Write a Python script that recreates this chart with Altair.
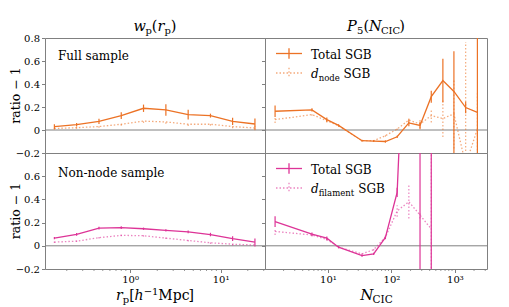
import altair as alt
import pandas as pd

# ---------------- data ----------------
rp = [0.146, 0.257, 0.454, 0.80, 1.41, 2.49, 4.39, 7.74, 13.6, 24.0]
wp_full_total = [0.029, 0.046, 0.075, 0.125, 0.189, 0.175, 0.134, 0.125, 0.075, 0.052]
wp_full_total_err = [0.02, 0.015, 0.022, 0.03, 0.032, 0.05, 0.043, 0.017, 0.032, 0.048]
wp_full_node = [0.013, 0.02, 0.03, 0.05, 0.077, 0.07, 0.05, 0.05, 0.03, 0.017]
wp_full_node_err = [0.01, 0.01, 0.01, 0.012, 0.015, 0.015, 0.015, 0.012, 0.015, 0.02]

wp_nn_total = [0.066, 0.098, 0.153, 0.156, 0.147, 0.133, 0.12, 0.097, 0.062, 0.032]
wp_nn_total_err = [0.01, 0.012, 0.012, 0.012, 0.01, 0.01, 0.012, 0.015, 0.02, 0.03]
wp_nn_fil = [0.032, 0.04, 0.07, 0.09, 0.087, 0.066, 0.046, 0.026, 0.014, 0.007]
wp_nn_fil_err = [0.008, 0.008, 0.008, 0.008, 0.008, 0.008, 0.01, 0.01, 0.012, 0.015]

ncic = [1.47, 5.6, 9.6, 14.7, 34.4, 52.5, 80.4, 123, 188, 282, 424, 646, 964, 1476, 2259]
p5_full_total = [0.163, 0.175, 0.09, 0.04, -0.093, -0.097, -0.10, -0.059, 0.062, 0.04, 0.29, 0.43, 0.335, 0.195, 0.154]
p5_full_total_lo = [0.113, 0.16, 0.072, 0.03, -0.101, -0.105, -0.11, -0.069, 0.032, 0.007, 0.238, 0.24, -0.3, 0.145, -2.0]
p5_full_total_hi = [0.213, 0.19, 0.108, 0.05, -0.085, -0.089, -0.09, -0.049, 0.092, 0.073, 0.342, 0.62, 0.685, 0.245, 2.3]
p5_full_node = [0.09, 0.134, 0.081, 0.038, -0.093, -0.093, -0.05, 0.008, 0.087, 0.052, 0.125, 0.10, 0.14, -0.30, 0.008]
p5_full_node_lo = [0.06, 0.124, 0.066, 0.03, -0.1, -0.1, -0.058, 0.0, 0.057, 0.017, 0.065, -0.06, -0.16, -1.4, -0.3]
p5_full_node_hi = [0.12, 0.144, 0.096, 0.046, -0.086, -0.086, -0.042, 0.016, 0.117, 0.087, 0.185, 0.26, 0.44, 0.765, 0.32]

ncic_nn = [1.47, 5.6, 9.6, 14.7, 34.4, 52.5, 80.4, 123, 188, 282, 424]
p5_nn_total = [0.208, 0.10, 0.066, -0.012, -0.084, -0.07, 0.072, 0.46, 2.8, 3.0, 3.0]
p5_nn_total_lo = [0.162, 0.085, 0.051, -0.022, -0.094, -0.08, 0.057, 0.42, 2.5, -5.0, -5.0]
p5_nn_total_hi = [0.254, 0.115, 0.081, -0.002, -0.074, -0.06, 0.087, 0.50, 3.1, 11.0, 11.0]
p5_nn_fil = [0.124, 0.093, 0.055, -0.012, -0.07, -0.033, 0.075, 0.30, 0.38, 0.265, 0.145]
p5_nn_fil_lo = [0.094, 0.081, 0.043, -0.02, -0.078, -0.041, 0.065, 0.25, 0.235, 0.235, -3.0]
p5_nn_fil_hi = [0.154, 0.105, 0.067, -0.004, -0.062, -0.025, 0.085, 0.35, 0.525, 0.295, 3.0]

minor_rp = [0.2, 0.3, 0.4, 0.5, 0.6, 0.7, 0.8, 0.9, 2, 3, 4, 5, 6, 7, 8, 9, 20, 30]
minor_n = [2, 3, 4, 5, 6, 7, 8, 9, 20, 30, 40, 50, 60, 70, 80, 90,
           200, 300, 400, 500, 600, 700, 800, 900, 2000, 3000]

# ---------------- style ----------------
FONT = "DejaVu Serif"
ORANGE = "#ec7225"
MAGENTA = "#dd3497"
GRAY = "#808080"
WL, WR = 220, 222
HT, HB = 115, 116
DOT = [1.5, 2]

CW = {' ': .318, '(': .39, ')': .39, '[': .39, ']': .39, '−': .838, '0': .636, '1': .636,
      '5': .636, 'B': .735, 'C': .733, 'G': .779, 'I': .369, 'M': .947, 'N': .818,
      'P': .692, 'S': .685, 'T': .672, 'a': .598, 'c': .563, 'd': .642, 'e': .594,
      'f': .373, 'h': .644, 'i': .32, 'l': .32, 'm': .953, 'n': .644, 'o': .602,
      'p': .642, 'r': .478, 't': .402, 'w': .82}


def rich(pieces, x0, y0, anchor="left"):
    widths = [sum(CW.get(c, 0.6) for c in t) * s for t, s, it, dy in pieces]
    x = x0 - sum(widths) / 2 if anchor == "center" else x0
    out = []
    for (t, s, it, dy), w in zip(pieces, widths):
        lead = (len(t) - len(t.lstrip(" "))) * CW[" "] * s
        out.append(
            alt.Chart(pd.DataFrame({"t": [t.strip(" ")]})).mark_text(
                align="left", baseline="alphabetic", font=FONT, fontSize=s,
                fontStyle="italic" if it else "normal", fontWeight="normal", color="black")
            .encode(text="t:N", x=alt.value(x + lead), y=alt.value(y0 + dy)))
        x += w
    return out


def legend(label_pieces2, color):
    one = pd.DataFrame({"a": [0]})
    out = []
    rows = [(15.5, "solid"), (35, "dot")]
    for yy, kind in rows:
        kw = dict(color=color, strokeWidth=1.3)
        if kind == "dot":
            kw = dict(color=color, strokeWidth=1.3, strokeDash=DOT, opacity=0.6)
        out.append(alt.Chart(one).mark_rule(**kw).encode(
            x=alt.value(11), x2=alt.value(37), y=alt.value(yy)))
        out.append(alt.Chart(one).mark_rule(**kw).encode(
            x=alt.value(24), y=alt.value(yy - 5.3), y2=alt.value(yy + 5.3)))
    out += rich([("Total SGB", 12, False, 0)], 46, 20.5)
    out += rich(label_pieces2, 46, 40)
    return out


def panel(xv, a, alo, ahi, b, blo, bhi, color, xdom, W, H, yaxis, xaxis, extra, minor=None):
    xs = alt.Scale(type="log", domain=xdom, nice=False)
    ys = alt.Scale(domain=[-0.2, 0.8], nice=False, zero=False)
    X = alt.X("x:Q", scale=xs, axis=xaxis, title=None)
    da = pd.DataFrame({"x": xv, "y": a, "lo": alo, "hi": ahi})
    db = pd.DataFrame({"x": xv, "y": b, "lo": blo, "hi": bhi})
    zero = alt.Chart(pd.DataFrame({"y": [0]})).mark_rule(color=GRAY, strokeWidth=1).encode(
        y=alt.Y("y:Q", scale=ys, axis=yaxis, title=None))
    layers = [zero]
    for d, dotted in [(db, True), (da, False)]:
        kw = dict(color=color, clip=True)
        if dotted:
            kw.update(strokeDash=DOT, opacity=0.6)
        layers.append(alt.Chart(d).mark_rule(strokeWidth=1.2, **kw).encode(
            x=X, y=alt.Y("lo:Q", scale=ys, axis=yaxis, title=None), y2="hi:Q"))
        layers.append(alt.Chart(d).mark_line(strokeWidth=1.3, **kw).encode(
            x=X, y=alt.Y("y:Q", scale=ys, axis=yaxis, title=None)))
    if minor is not None:
        layers.append(alt.Chart(pd.DataFrame({"x": minor})).mark_rule(color=GRAY, strokeWidth=0.8).encode(
            x=X, y=alt.value(H), y2=alt.value(H + 2)))
    layers += extra
    return alt.layer(*layers).properties(width=W, height=H)


AX = dict(labelFont=FONT, labelFontSize=10, labelColor="black", tickColor=GRAY,
          tickSize=3.5, labelPadding=2, domain=False, grid=False)
ylab = "datum.value == 0 ? '0' : format(datum.value, '.1f')"
yaxis_full = alt.Axis(values=[-0.2, 0, 0.2, 0.4, 0.6, 0.8], labelExpr=ylab, **AX)
yaxis_nn = alt.Axis(values=[-0.2, 0, 0.2, 0.4, 0.6], labelExpr=ylab, **AX)
yaxis_blank = alt.Axis(values=[-0.2, 0, 0.2, 0.4, 0.6, 0.8], labels=False, **AX)
xlab = ("datum.value == 1 ? '10⁰' : datum.value == 10 ? '10¹' : "
        "datum.value == 100 ? '10²' : '10³'")
xaxis_rp = alt.Axis(values=[1, 10], labelExpr=xlab, **AX)
xaxis_n = alt.Axis(values=[10, 100, 1000], labelExpr=xlab, **AX)

RP_DOM = [0.115, 31]
N_DOM = [1.02, 3200]

ytitle = lambda H: alt.Chart(pd.DataFrame({"t": ["ratio − 1"]})).mark_text(
    angle=270, align="center", baseline="middle", font=FONT, fontSize=12.5,
    fontWeight="normal", color="black"
).encode(text="t:N", x=alt.value(-29.5), y=alt.value(H / 2))

anchor = alt.Chart(pd.DataFrame({"a": [0]})).mark_rule(color="white", strokeWidth=1).encode(
    x=alt.value(-35.5), x2=alt.value(-34), y=alt.value(-28.5))

tl_extra = [anchor, ytitle(HT)] + rich([("Full sample", 12, False, 0)], 13, 22.3) + rich(
    [("w", 14.5, True, 0), ("p", 10, False, 3), ("(", 14.5, False, 0), ("r", 14.5, True, 0),
     ("p", 10, False, 3), (")", 14.5, False, 0)], WL / 2, -7, "center")
tr_extra = legend([("d", 12, True, 0), ("node", 8.5, False, 3), (" SGB", 12, False, 0)], ORANGE) + rich(
    [("P", 14.5, True, 0), ("5", 10, False, 3), ("(", 14.5, False, 0), ("N", 14.5, True, 0),
     ("CIC", 10, False, 3), (")", 14.5, False, 0)], WR / 2, -7, "center")
bl_extra = [ytitle(HB)] + rich([("Non-node sample", 12, False, 0)], 13, 24) + rich(
    [("r", 14, True, 0), ("p", 10, False, 3), ("[", 14, False, 0), ("h", 14, True, 0),
     ("−1", 10, False, -5.5), ("Mpc", 14, False, 0), ("]", 14, False, 0)], WL / 2, HB + 31, "center")
br_extra = legend([("d", 12, True, 0), ("filament", 8.5, False, 3), (" SGB", 12, False, 0)], MAGENTA) + rich(
    [("N", 15, True, 0), ("CIC", 10.5, False, 3)], WR / 2, HB + 31, "center")

tl = panel(rp, wp_full_total, [v - e for v, e in zip(wp_full_total, wp_full_total_err)],
           [v + e for v, e in zip(wp_full_total, wp_full_total_err)],
           wp_full_node, [v - e for v, e in zip(wp_full_node, wp_full_node_err)],
           [v + e for v, e in zip(wp_full_node, wp_full_node_err)],
           ORANGE, RP_DOM, WL, HT, yaxis_full, None, tl_extra)
tr = panel(ncic, p5_full_total, p5_full_total_lo, p5_full_total_hi,
           p5_full_node, p5_full_node_lo, p5_full_node_hi,
           ORANGE, N_DOM, WR, HT, yaxis_blank, None, tr_extra)
bl = panel(rp, wp_nn_total, [v - e for v, e in zip(wp_nn_total, wp_nn_total_err)],
           [v + e for v, e in zip(wp_nn_total, wp_nn_total_err)],
           wp_nn_fil, [v - e for v, e in zip(wp_nn_fil, wp_nn_fil_err)],
           [v + e for v, e in zip(wp_nn_fil, wp_nn_fil_err)],
           MAGENTA, RP_DOM, WL, HB, yaxis_nn, xaxis_rp, bl_extra, minor_rp)
br = panel(ncic_nn, p5_nn_total, p5_nn_total_lo, p5_nn_total_hi,
           p5_nn_fil, p5_nn_fil_lo, p5_nn_fil_hi,
           MAGENTA, N_DOM, WR, HB, yaxis_blank, xaxis_n, br_extra, minor_n)

chart = alt.concat(tl, tr, bl, br, columns=2, spacing=0, bounds="flush").properties(
    padding=0
).resolve_scale(x="independent", y="independent").configure_view(
    stroke=GRAY, strokeWidth=1
).configure_axis(**AX)

chart.save("out.html", embed_options={"renderer": "svg", "actions": False})
